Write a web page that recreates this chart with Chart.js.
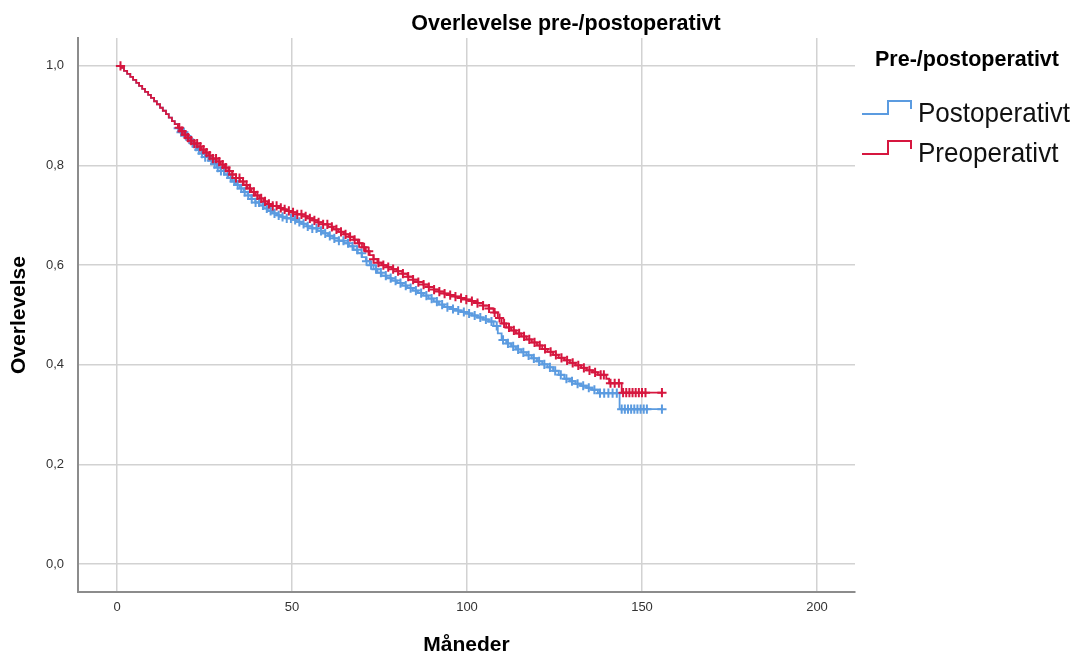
<!DOCTYPE html>
<html>
<head>
<meta charset="utf-8">
<title>Overlevelse pre-/postoperativt</title>
<script src="https://cdn.jsdelivr.net/npm/chart.js@4/dist/chart.umd.min.js"></script>
<style>
    html, body { margin: 0; padding: 0; background: #ffffff; }
    #wrap { width: 1076px; height: 657px; }
</style>
</head>
<body>
<div id="wrap"><canvas id="grafOverlevelse" width="1076" height="657"></canvas></div>
<script>
// Akser
const monthTicks = [0, 50, 100, 150, 200];
const survivalTicks = [0, 0.2, 0.4, 0.6, 0.8, 1.0];
const groupNames = ['Postoperativt', 'Preoperativt'];

// Kaplan-Meier, preoperativt (tid i måneder, overlevelse)
const preTimes = [0, 1.2, 2.0, 2.9, 3.8, 4.6, 5.5, 6.3, 7.2, 8.0, 8.9, 9.7, 10.6, 11.4, 12.3, 13.1, 14.0, 14.8, 15.7, 16.5,
    17.4, 18.3, 19.2, 20.1, 21.0, 22.0, 23.0, 24.1, 25.2, 26.3, 27.4, 28.5, 29.6, 30.7, 31.8, 32.9, 34.0, 35.1, 36.2, 37.3,
    38.4, 39.5, 40.7, 41.9, 43.1, 44.4, 45.7, 47.0, 48.4, 49.8, 51.3, 52.8, 54.3, 55.8, 57.3, 58.8, 60.3, 61.8, 63.3, 64.8,
    66.3, 67.6, 68.8, 70.0, 71.1, 72.2, 73.3, 74.4, 75.6, 77.0, 78.5, 80.0, 81.5, 83.0, 84.5, 86.0, 87.5, 89.0, 90.5, 92.0,
    93.5, 95.0, 96.6, 98.2, 99.8, 101.4, 103.0, 104.6, 106.2, 107.6, 108.8, 109.9, 111.2, 112.6, 114.0, 115.5, 117.0, 118.5,
    120.0, 121.5, 123.0, 124.6, 126.2, 127.8, 129.4, 131.0, 132.6, 134.2, 135.8, 137.4, 139.8, 140.6, 144.2, 156.0];
const preSurvival = [1.000, 0.996, 0.990, 0.984, 0.978, 0.972, 0.966, 0.960, 0.954, 0.948, 0.942, 0.936, 0.929, 0.923, 0.916, 0.910, 0.903, 0.896, 0.889, 0.883,
    0.876, 0.869, 0.862, 0.856, 0.850, 0.844, 0.838, 0.832, 0.826, 0.820, 0.814, 0.808, 0.802, 0.796, 0.789, 0.782, 0.775, 0.768, 0.761, 0.754,
    0.747, 0.740, 0.734, 0.728, 0.723, 0.719, 0.715, 0.712, 0.709, 0.706, 0.702, 0.698, 0.694, 0.690, 0.686, 0.682, 0.677, 0.672, 0.667, 0.662,
    0.657, 0.651, 0.644, 0.636, 0.628, 0.620, 0.612, 0.605, 0.600, 0.596, 0.592, 0.588, 0.583, 0.577, 0.571, 0.566, 0.561, 0.556, 0.551, 0.547,
    0.543, 0.540, 0.537, 0.534, 0.531, 0.528, 0.524, 0.519, 0.513, 0.505, 0.494, 0.483, 0.475, 0.469, 0.463, 0.457, 0.451, 0.445,
    0.439, 0.432, 0.426, 0.420, 0.414, 0.409, 0.404, 0.399, 0.394, 0.389, 0.385, 0.380, 0.372, 0.363, 0.344, 0.344];
const preCensored = [1.0, 17.8, 18.6, 19.5, 20.3, 21.2, 22.1, 22.9, 23.8, 24.7, 25.6, 26.5, 27.4, 28.3, 29.2, 30.2, 31.1, 32.1, 33.0, 34.0,
    35.0, 36.0, 37.0, 38.0, 39.1, 40.1, 41.2, 42.3, 43.4, 44.5, 45.6, 46.8, 47.9, 49.1, 50.3, 51.5, 52.7, 53.9, 55.1, 56.4,
    57.6, 58.9, 60.1, 61.4, 62.7, 64.0, 65.3, 66.6, 67.9, 69.2, 70.6, 71.9, 73.3, 74.7, 76.1, 77.5, 78.9, 80.3, 81.7, 83.2,
    84.6, 86.1, 87.6, 89.1, 90.6, 92.1, 93.6, 95.2, 96.7, 98.3, 99.8, 101.4, 103.0, 104.6, 106.3, 107.9, 109.3, 110.6, 112.0, 113.4,
    114.9, 116.3, 117.8, 119.3, 120.8, 122.3, 123.9, 125.4, 127.0, 128.6, 130.2, 131.8, 133.4, 135.0, 136.6, 138.2, 139.1, 141.0,
    142.2, 143.4, 144.6, 145.5, 146.4, 147.3, 148.2, 149.1, 150.0, 151.0, 155.7];

// Kaplan-Meier, postoperativt
const postTimes = [0, 1.2, 2.0, 2.9, 3.8, 4.6, 5.5, 6.3, 7.2, 8.0, 8.9, 9.7, 10.6, 11.4, 12.3, 13.1, 14.0, 14.8, 15.7, 16.5,
    17.4, 18.3, 19.2, 20.1, 21.0, 22.0, 23.0, 24.1, 25.2, 26.3, 27.4, 28.5, 29.6, 30.7, 31.8, 32.9, 34.0, 35.1, 36.2, 37.3,
    38.4, 39.5, 40.7, 41.9, 43.1, 44.4, 45.7, 47.0, 48.4, 49.8, 51.3, 52.8, 54.3, 55.8, 57.3, 58.8, 60.3, 61.8, 63.3, 64.8,
    66.3, 67.6, 68.8, 70.0, 71.1, 72.2, 73.3, 74.4, 75.6, 77.0, 78.5, 80.0, 81.5, 83.0, 84.5, 86.0, 87.5, 89.0, 90.5, 92.0,
    93.5, 95.0, 96.6, 98.2, 99.8, 101.4, 103.0, 104.6, 106.2, 107.6, 108.8, 109.9, 111.2, 112.6, 114.0, 115.5, 117.0, 118.5,
    120.0, 121.5, 123.0, 124.6, 126.2, 127.8, 129.4, 131.0, 132.6, 134.2, 135.8, 137.4, 143.6, 156.0];
const postSurvival = [1.000, 0.996, 0.990, 0.984, 0.978, 0.972, 0.966, 0.960, 0.954, 0.948, 0.942, 0.936, 0.929, 0.923, 0.916, 0.910, 0.903, 0.896, 0.889, 0.883,
    0.875, 0.867, 0.859, 0.852, 0.845, 0.838, 0.831, 0.824, 0.817, 0.810, 0.803, 0.796, 0.789, 0.782, 0.775, 0.768, 0.761, 0.754, 0.747, 0.740,
    0.733, 0.726, 0.720, 0.714, 0.709, 0.704, 0.700, 0.697, 0.694, 0.691, 0.687, 0.683, 0.678, 0.674, 0.669, 0.664, 0.659, 0.654, 0.649, 0.644,
    0.638, 0.631, 0.624, 0.616, 0.608, 0.600, 0.592, 0.585, 0.579, 0.574, 0.569, 0.564, 0.559, 0.554, 0.549, 0.544, 0.539, 0.533, 0.527, 0.521,
    0.516, 0.512, 0.509, 0.506, 0.503, 0.499, 0.495, 0.491, 0.487, 0.478, 0.463, 0.450, 0.443, 0.437, 0.431, 0.425, 0.419, 0.413,
    0.407, 0.401, 0.395, 0.388, 0.380, 0.372, 0.367, 0.362, 0.358, 0.354, 0.350, 0.343, 0.311, 0.311];
const postCensored = [17.5, 18.3, 19.1, 20.0, 20.8, 21.7, 22.6, 23.4, 24.3, 25.2, 26.1, 27.0, 27.9, 28.8, 29.7, 30.6, 31.6, 32.5, 33.5, 34.5,
    35.5, 36.5, 37.5, 38.5, 39.6, 40.6, 41.7, 42.8, 43.9, 45.0, 46.2, 47.3, 48.5, 49.7, 50.9, 52.1, 53.3, 54.5, 55.8, 57.0,
    58.3, 59.5, 60.8, 62.1, 63.4, 64.7, 66.0, 67.3, 68.6, 69.9, 71.3, 72.6, 74.0, 75.4, 76.8, 78.2, 79.6, 81.0, 82.5, 83.9,
    85.4, 86.9, 88.4, 89.9, 91.4, 92.9, 94.4, 96.0, 97.5, 99.1, 100.6, 102.2, 103.8, 105.4, 107.0, 108.5, 110.3, 111.7, 113.2, 114.6,
    116.1, 117.6, 119.1, 120.6, 122.1, 123.7, 125.2, 126.8, 128.4, 130.0, 131.6, 133.2, 134.8, 136.4, 138.0, 139.2, 140.4, 141.6,
    142.8, 144.2, 145.1, 146.0, 146.9, 147.8, 148.7, 149.6, 150.5, 151.4, 155.7];

const farger = { post: '#5b9be0', pre: '#d6173f' };

// Overlevelse ved tid t = siste trinn før eller på t
function overlevelseVed(times, surv, t) {
    let idx = 0;
    for (let i = 0; i < times.length; i++) {
        if (times[i] <= t) idx = i;
    }
    return surv[idx];
}

const tilPunkter = (times, surv) => times.map((t, i) => ({ x: t, y: surv[i] }));
const sensurPunkter = (cens, times, surv) => cens.map(t => ({ x: t, y: overlevelseVed(times, surv, t) }));

const fontFamily = "'Liberation Sans', Arial, Helvetica, sans-serif";
Chart.defaults.font.family = fontFamily;

// Tittel og forklaring tegnes direkte på lerretet
const tittelOgForklaring = {
    id: 'tittelOgForklaring',
    afterDraw(chart) {
        const ctx = chart.ctx;
        ctx.save();
        ctx.fillStyle = '#000';
        ctx.textBaseline = 'middle';
        ctx.font = 'bold 21.5px ' + fontFamily;
        ctx.textAlign = 'center';
        ctx.fillText('Overlevelse pre-/postoperativt', 566, 24);

        ctx.textAlign = 'left';
        ctx.fillText('Pre-/postoperativt', 875, 60);

        const rader = [
            { navn: groupNames[0], farge: farger.post, y: 114 },
            { navn: groupNames[1], farge: farger.pre, y: 154 }
        ];
        rader.forEach(r => {
            ctx.strokeStyle = r.farge;
            ctx.lineWidth = 2;
            ctx.beginPath();
            ctx.moveTo(862, r.y);
            ctx.lineTo(888, r.y);
            ctx.lineTo(888, r.y - 13);
            ctx.lineTo(911, r.y - 13);
            ctx.lineTo(911, r.y - 5);
            ctx.stroke();

            ctx.save();
            ctx.translate(918, r.y + 8);
            ctx.scale(0.93, 1);
            ctx.fillStyle = '#111';
            ctx.textBaseline = 'alphabetic';
            ctx.font = '28px ' + fontFamily;
            ctx.fillText(r.navn, 0, 0);
            ctx.restore();
        });
        ctx.restore();
    }
};

const ctx = document.getElementById('grafOverlevelse').getContext('2d');

new Chart(ctx, {
    data: {
        datasets: [
            {
                type: 'line',
                label: groupNames[1],
                data: tilPunkter(preTimes, preSurvival),
                borderColor: farger.pre,
                borderWidth: 1.8,
                stepped: 'before',
                pointRadius: 0,
                fill: false,
                order: 1
            },
            {
                type: 'scatter',
                label: groupNames[1] + ' sensurert',
                data: sensurPunkter(preCensored, preTimes, preSurvival),
                pointStyle: 'cross',
                pointRadius: 4.6,
                borderColor: farger.pre,
                borderWidth: 2,
                order: 2
            },
            {
                type: 'line',
                label: groupNames[0],
                data: tilPunkter(postTimes, postSurvival),
                borderColor: farger.post,
                borderWidth: 1.8,
                stepped: 'before',
                pointRadius: 0,
                fill: false,
                order: 3
            },
            {
                type: 'scatter',
                label: groupNames[0] + ' sensurert',
                data: sensurPunkter(postCensored, postTimes, postSurvival),
                pointStyle: 'cross',
                pointRadius: 4.6,
                borderColor: farger.post,
                borderWidth: 2,
                order: 4
            }
        ]
    },
    options: {
        responsive: false,
        animation: false,
        layout: { padding: { left: 0, top: 38, right: 1076 - 855, bottom: 0 } },
        plugins: {
            legend: { display: false },
            tooltip: { enabled: false },
            title: { display: false }
        },
        scales: {
            x: {
                type: 'linear',
                min: -11.14,
                max: 210.86,
                afterBuildTicks: scale => { scale.ticks = monthTicks.map(v => ({ value: v })); },
                afterFit: scale => { scale.height = 65; },
                ticks: { color: '#333', font: { size: 13 }, padding: 8 },
                grid: { color: '#d2d2d2', lineWidth: 1.5, drawTicks: false },
                border: { color: '#8c8c8c', width: 2 },
                title: {
                    display: true,
                    text: 'Måneder',
                    color: '#000',
                    font: { size: 21, weight: 'bold', lineHeight: 1 },
                    padding: { top: 0, bottom: 1 }
                }
            },
            y: {
                type: 'linear',
                min: -0.056,
                max: 1.056,
                afterBuildTicks: scale => { scale.ticks = survivalTicks.map(v => ({ value: v })); },
                afterFit: scale => { scale.width = 78; },
                ticks: {
                    color: '#333',
                    font: { size: 13 },
                    padding: 14,
                    callback: v => v.toFixed(1).replace('.', ',')
                },
                grid: { color: '#d2d2d2', lineWidth: 1.5, drawTicks: false },
                border: { color: '#8c8c8c', width: 2 },
                title: {
                    display: true,
                    text: 'Overlevelse',
                    color: '#000',
                    font: { size: 21, weight: 'bold', lineHeight: 1 },
                    padding: { top: 9, bottom: 0 }
                }
            }
        }
    },
    plugins: [tittelOgForklaring]
});
</script>
</body>
</html>
